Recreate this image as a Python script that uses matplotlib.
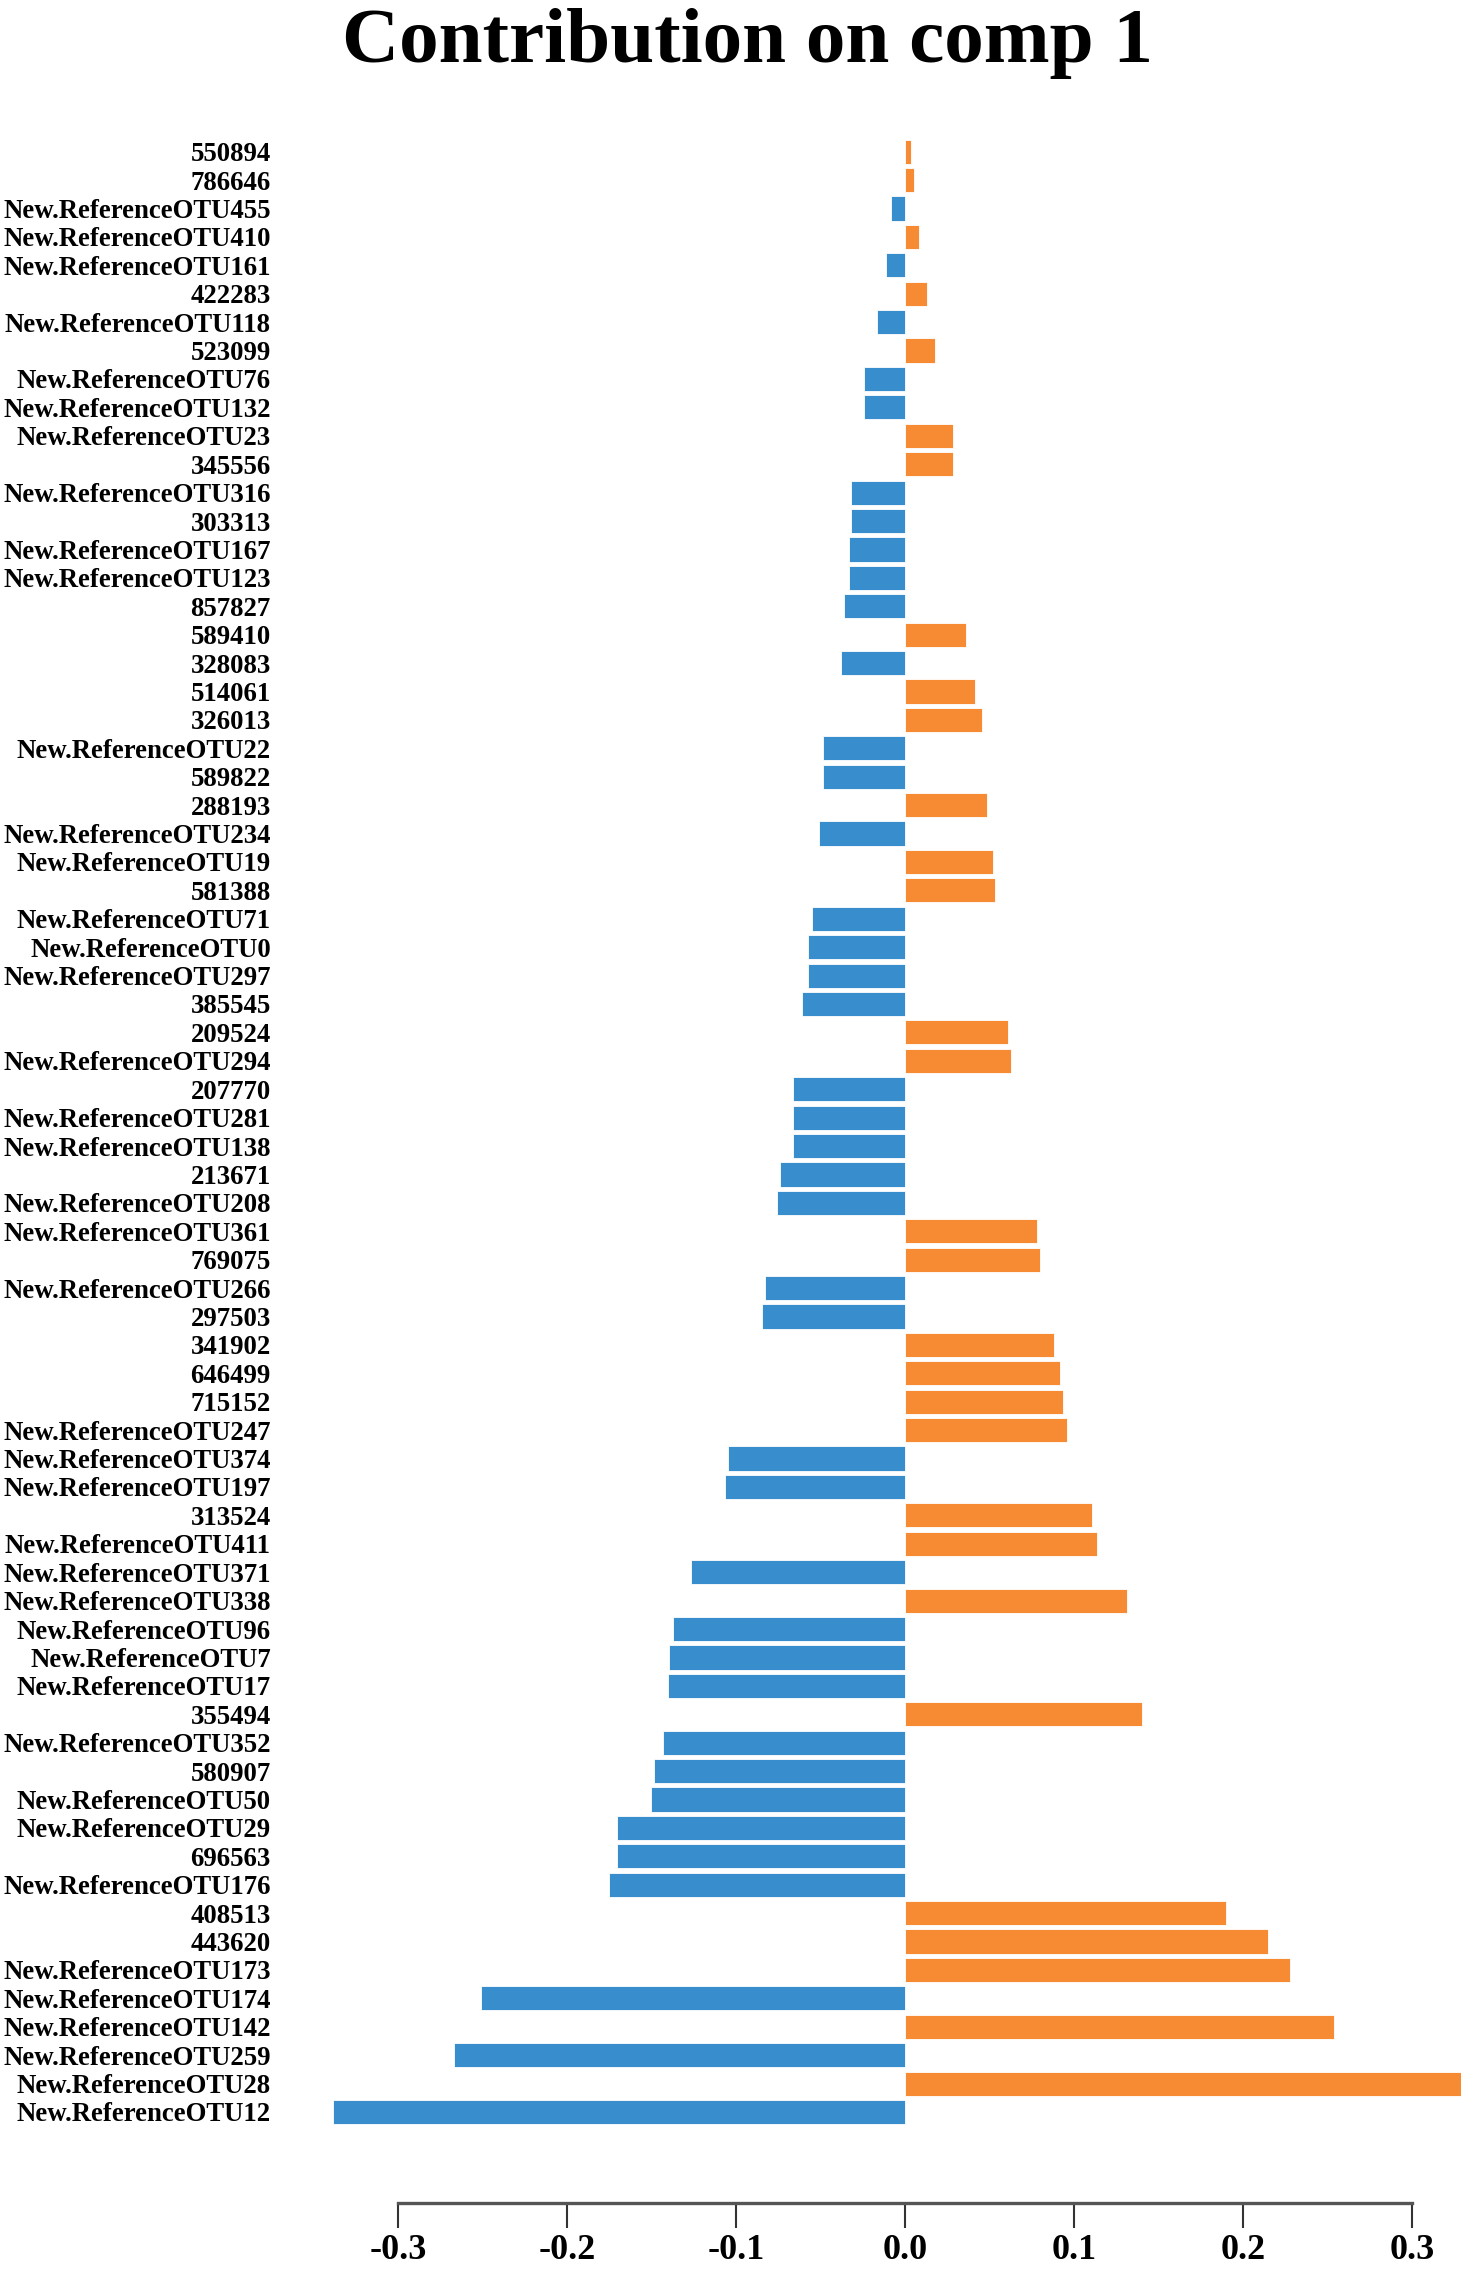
import matplotlib
matplotlib.use("Agg")
import matplotlib.pyplot as plt

labels = ["550894", "786646", "New.ReferenceOTU455", "New.ReferenceOTU410", "New.ReferenceOTU161",
          "422283", "New.ReferenceOTU118", "523099", "New.ReferenceOTU76", "New.ReferenceOTU132",
          "New.ReferenceOTU23", "345556", "New.ReferenceOTU316", "303313", "New.ReferenceOTU167",
          "New.ReferenceOTU123", "857827", "589410", "328083", "514061",
          "326013", "New.ReferenceOTU22", "589822", "288193", "New.ReferenceOTU234",
          "New.ReferenceOTU19", "581388", "New.ReferenceOTU71", "New.ReferenceOTU0", "New.ReferenceOTU297",
          "385545", "209524", "New.ReferenceOTU294", "207770", "New.ReferenceOTU281",
          "New.ReferenceOTU138", "213671", "New.ReferenceOTU208", "New.ReferenceOTU361", "769075",
          "New.ReferenceOTU266", "297503", "341902", "646499", "715152",
          "New.ReferenceOTU247", "New.ReferenceOTU374", "New.ReferenceOTU197", "313524", "New.ReferenceOTU411",
          "New.ReferenceOTU371", "New.ReferenceOTU338", "New.ReferenceOTU96", "New.ReferenceOTU7", "New.ReferenceOTU17",
          "355494", "New.ReferenceOTU352", "580907", "New.ReferenceOTU50", "New.ReferenceOTU29",
          "696563", "New.ReferenceOTU176", "408513", "443620", "New.ReferenceOTU173",
          "New.ReferenceOTU174", "New.ReferenceOTU142", "New.ReferenceOTU259", "New.ReferenceOTU28", "New.ReferenceOTU12"]

values = [0.0035, 0.0053, -0.0084, 0.0084, -0.0114,
          0.0132, -0.0163, 0.0176, -0.0242, -0.0242,
          0.0282, 0.0282, -0.0321, -0.0321, -0.0334,
          -0.0334, -0.0361, 0.0361, -0.0378, 0.0414,
          0.0458, -0.0488, -0.0488, 0.0488, -0.0510,
          0.0519, 0.0532, -0.0550, -0.0576, -0.0576,
          -0.0607, 0.0607, 0.0629, -0.0660, -0.0660,
          -0.0660, -0.0739, -0.0757, 0.0779, 0.0796,
          -0.0831, -0.0849, 0.0880, 0.0915, 0.0937,
          0.0959, -0.1047, -0.1065, 0.1109, 0.1135,
          -0.1267, 0.1315, -0.1373, -0.1395, -0.1403,
          0.1403, -0.1434, -0.1483, -0.1505, -0.1703,
          -0.1703, -0.1751, 0.1901, 0.2147, 0.2279,
          -0.2508, 0.2538, -0.2666, 0.3350, -0.3383]

xticks = [-0.3, -0.2, -0.1, 0.0, 0.1, 0.2, 0.3]
xticklabels = ["-0.3", "-0.2", "-0.1", "0.0", "0.1", "0.2", "0.3"]
title = "Contribution on comp 1"

neg_color = "#388ECC"
pos_color = "#F68B33"

W, H = 1461, 2277
fig = plt.figure(figsize=(W / 100, H / 100), dpi=100)

serif = ["Liberation Serif", "DejaVu Serif"]

# axes geometry in pixels
left_px, right_px = 300, W
top_px, bottom_px = 130, 2203
ax = fig.add_axes([left_px / W, 1 - bottom_px / H, (right_px - left_px) / W, (bottom_px - top_px) / H])

zero_px = 905.0
px_per_unit = 1690.0
ax.set_xlim((left_px - zero_px) / px_per_unit, (right_px - zero_px) / px_per_unit)

spacing = 28.41
first_center = 151.7
ax.set_ylim(len(values) - 1 + (bottom_px - (first_center + spacing * (len(values) - 1))) / spacing,
            -(first_center - top_px) / spacing)

ypos = list(range(len(values)))
colors = [pos_color if v > 0 else neg_color for v in values]
ax.barh(ypos, values, height=0.85, color=colors, edgecolor="white", linewidth=0.6)

ax.set_yticks(ypos)
ax.set_yticklabels(labels, fontfamily=serif, fontweight="bold", fontsize=19.3)
ax.tick_params(axis="y", length=0, pad=21)

ax.set_xticks(xticks)
ax.set_xticklabels(xticklabels, fontfamily=serif, fontweight="bold", fontsize=26)
ax.tick_params(axis="x", length=18, width=1.5, color="#333333", pad=4, direction="out")

for s in ["top", "right", "left"]:
    ax.spines[s].set_visible(False)
ax.spines["bottom"].set_bounds(-0.3, 0.3)
ax.spines["bottom"].set_linewidth(2.4)
ax.spines["bottom"].set_color("#555555")

fig.text(747 / W, 1 - 62 / H, title, ha="center", va="baseline",
         fontfamily=serif, fontweight="bold", fontsize=57)

fig.savefig("out.png", dpi=100, facecolor="white")
